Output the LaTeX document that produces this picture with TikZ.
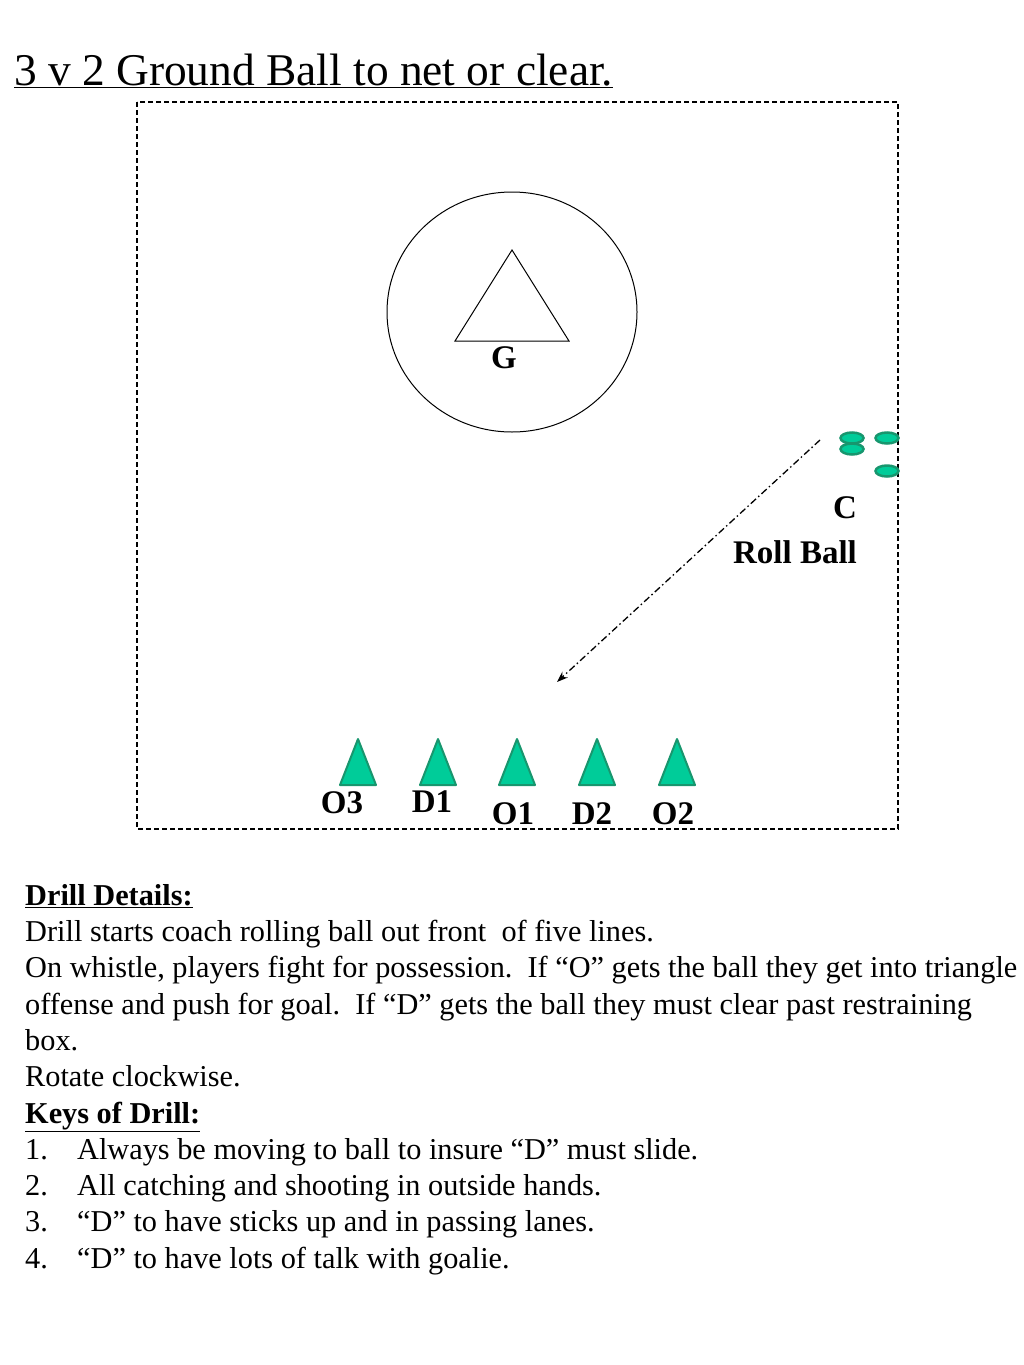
\documentclass[tikz,border=0pt]{standalone}
\usepackage{fontspec}
\setmainfont{Liberation Serif}
\usetikzlibrary{arrows.meta, positioning, shapes.geometric}

\definecolor{conegreen}{RGB}{0,204,153}
\definecolor{conedark}{RGB}{24,150,110}

\begin{document}
\begin{tikzpicture}[
    x=1pt, y=-1pt,
    >=Stealth,
    every node/.style={align=center, inner sep=0pt},
    field/.style={draw, line width=1.1pt, dash pattern=on 5pt off 3pt},
    ball/.style={draw=conedark, fill=conegreen, line width=2.5pt,
                 ellipse, minimum width=23pt, minimum height=11pt},
    cone/.style={draw=conedark, fill=conegreen, line width=2pt, line join=round},
    player/.style={font=\fontsize{33}{36}\selectfont\bfseries},
    roll/.style={-{Stealth[length=11pt, width=8pt]}, line width=1.3pt,
                 dash pattern=on 7pt off 3pt on 1.5pt off 3pt}
]
\useasboundingbox (0,0) rectangle (1024,1365);

%-------------------------------
% 1) Title
%-------------------------------
\node[anchor=base west, font=\fontsize{45.4}{50}\selectfont] (title) at (14,85)
      {\underline{3 v 2 Ground Ball to net or clear.}};

%-------------------------------
% 2) Field and goal crease
%-------------------------------
\draw[field] (137,102) rectangle (898,829);

\node[draw, ellipse, line width=1pt, minimum width=250pt, minimum height=240pt]
      (crease) at (512,312) {};
\draw[line width=1pt] (512,250) -- (569,341) -- (455,341) -- cycle;
\node[player] (goalie) at (504,358) {G};

%-------------------------------
% 3) Coach and balls
%-------------------------------
\node[ball] (ballA) at (852,438) {};
\node[ball] (ballB) at (852,449) {};
\node[ball] (ballC) at (887,438) {};
\node[ball] (ballD) at (887,471) {};

\node[player] (coach) at (845,508) {C};
\node[player] (rolltext) at (795,552) {Roll Ball};

% Roll of the ball out in front of the lines
\coordinate (rollstart) at (820,440);
\coordinate (rollend) at (557,682);
\draw[roll] (rollstart) -- (rollend);

%-------------------------------
% 4) Cones for the five lines
%-------------------------------
\draw[cone] (358,739) -- (376,785) -- (340,785) -- cycle;
\draw[cone] (438,739) -- (456,785) -- (420,785) -- cycle;
\draw[cone] (517,739) -- (535,785) -- (499,785) -- cycle;
\draw[cone] (597,739) -- (615,785) -- (579,785) -- cycle;
\draw[cone] (677,739) -- (695,785) -- (659,785) -- cycle;

\node[player] (o3) at (342,803) {O3};
\node[player] (d1) at (432,802) {D1};
\node[player] (o1) at (513,814) {O1};
\node[player] (d2) at (592,814) {D2};
\node[player] (o2) at (673,814) {O2};

%-------------------------------
% 5) Drill details
%-------------------------------
\node[anchor=north west, align=left, font=\fontsize{30.3}{36.3}\selectfont]
      (details) at (25,884)
      {\underline{\textbf{Drill Details:}}\\
       Drill starts coach rolling ball out front\ \ of five lines.\\
       On whistle, players fight for possession.\ \ If “O” gets the ball they get into triangle\\
       offense and push for goal.\ \ If “D” gets the ball they must clear past restraining\\
       box.\\
       Rotate clockwise.\\
       \underline{\textbf{Keys of Drill:}}\\
       \makebox[52pt][l]{1.}Always be moving to ball to insure “D” must slide.\\
       \makebox[52pt][l]{2.}All catching and shooting in outside hands.\\
       \makebox[52pt][l]{3.}“D” to have sticks up and in passing lanes.\\
       \makebox[52pt][l]{4.}“D” to have lots of talk with goalie.};

\end{tikzpicture}
\end{document}
